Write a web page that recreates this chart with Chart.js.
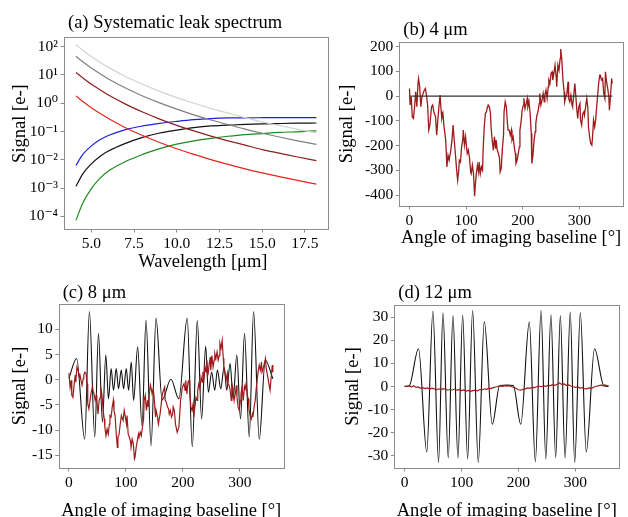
<!DOCTYPE html>
<html>
<head>
<meta charset="UTF-8">
<title>Systematic leak</title>
<style>
html, body { margin: 0; padding: 0; background: #fff; overflow: hidden; }
canvas { position: absolute; }
</style>
</head>
<body>
<canvas id="pa" width="334" height="278" style="left:0px;top:0px"></canvas>
<canvas id="pb" width="294" height="253" style="left:334px;top:0px"></canvas>
<canvas id="pc" width="334" height="250" style="left:0px;top:275px"></canvas>
<canvas id="pd" width="294" height="250" style="left:334px;top:275px"></canvas>
<script src="https://cdn.jsdelivr.net/npm/chart.js@4.4.1/dist/chart.umd.min.js"></script>
<script>
// (a) leak spectrum, signal in e- against wavelength in um
var wavelength = [4.1, 4.5, 5, 5.5, 6, 7, 8, 9, 10, 11, 12, 13, 14, 15, 16, 17, 18.17];
var leakLightGray = [117, 75, 45, 28.4, 18.6, 8.9, 4.7, 2.64, 1.58, 1.0, 0.66, 0.45, 0.31, 0.22, 0.164, 0.122, 0.089];
var leakGray = [45.7, 29.2, 17.5, 11.1, 7.2, 3.45, 1.81, 1.03, 0.62, 0.39, 0.255, 0.174, 0.121, 0.087, 0.064, 0.048, 0.035];
var leakBrown = [12.3, 7.9, 4.7, 3.0, 1.95, 0.93, 0.49, 0.276, 0.166, 0.105, 0.069, 0.047, 0.033, 0.023, 0.0172, 0.0128, 0.0093];
var leakRed = [1.82, 1.16, 0.70, 0.44, 0.29, 0.137, 0.072, 0.041, 0.0246, 0.0155, 0.0102, 0.0069, 0.0048, 0.00345, 0.00254, 0.0019, 0.00138];
var leakBlue = [0.0063, 0.0155, 0.031, 0.051, 0.072, 0.117, 0.158, 0.195, 0.229, 0.263, 0.288, 0.302, 0.306, 0.308, 0.309, 0.31, 0.31];
var leakBlack = [0.00116, 0.0032, 0.0072, 0.0132, 0.0204, 0.038, 0.062, 0.089, 0.112, 0.138, 0.158, 0.168, 0.178, 0.186, 0.192, 0.197, 0.2];
var leakGreen = [0.0000724, 0.000295, 0.00096, 0.0022, 0.004, 0.0087, 0.0155, 0.025, 0.036, 0.047, 0.0575, 0.068, 0.078, 0.085, 0.093, 0.098, 0.105];
var waveTicks = [5, 7.5, 10, 12.5, 15, 17.5];
var leakTicks = [1e-4, 1e-3, 1e-2, 1e-1, 1, 10, 100];

// (b) 4 um
var bAngle = [0,1,3,5,7,9,11,13,15,16, 18,20,22,23,26,28,30,32,34,36, 37,39,41,43,46,48,50,52,54,56,
  57,59,61,64,66,68,70,73,75,77, 79,81,83,85,87,88,90,92,94,95, 97,99,101,102,104,106,108,109,111,113,
  115,116,118,120,122,123,125,127,129,130, 132,134,136,137,139,141,143,144,146,148, 150,152,153,155,157,159,160,162,164,166,
  167,169,171,173,174,176,178,180,181,183, 185,187,188,190,192,194,195,197,199,201, 202,204,206,208,209,211,213,215,216,218,
  220,222,223,225,227,229,230,232,234,236, 238,239,241,243,245,246,248,250,252,253, 255,257,259,260,262,264,266,267,269,271,
  273,274,276,278,280,281,283,285,287,288, 290,292,294,295,297,299,301,302,304,306, 308,309,311,313,315,316,318,320,322,323,
  325,327,329,330,332,334,336,337,339,341, 343,345,346,348,350,352,353,355,357,358];
var bSignal = [31,-36,-3,-84,-90,-43,18,-43,51,71, 38,-43,-3,4,24,31,4,-36,-137,-117, -90,-43,-36,-63,-84,-158,-97,-43,4,-63,
  -90,-70,-124,-178,-286,-239,-259,-218,-178,-117, -178,-232,-292,-340,-299,-259,-266,-205,-178,-137, -198,-164,-212,-232,-218,-252,-306,-313,-279,-313,
  -404,-367,-313,-279,-306,-266,-313,-286,-299,-218, -124,-70,-63,-50,-36,-43,-70,-124,-178,-218, -164,-212,-178,-218,-232,-252,-306,-292,-212,-158,
  -63,-23,-43,-111,-137,-137,-158,-137,-178,-164, -205,-232,-272,-259,-232,-205,-137,-104,-57,-36, -9,-50,-30,-9,-43,-23,-70,-151,-272,-239,
  -178,-144,-111,-77,-63,-30,11,-36,-16,11, -23,4,24,-9,38,65,51,92,98,65, 92,125,78,38,125,105,152,190,146,65,
  18,-23,-3,11,58,-9,-23,4,-36,-43, 4,51,-9,-43,-90,-43,-30,-97,-117,-70, -63,-77,-43,-9,-50,-124,-164,-191,-198,-171,
  -97,-124,-90,-57,-3,51,85,85,65,71, 11,-9,98,58,31,-3,-57,4,71,51];
var bModelAngle = [0, 358];
var bModel = [0, 0];

// (c) 8 um
var cModelAngle = [0,13.5,27.6,35.9,45.3,51.8,58.8,64.7,69.4,74.1, 78.2,83,87,91.8,95.9,100.6,104.7,109.4,113.5,120.6,
  128.2,135.3,144.1,152.9,163.5,179,193,207.6,216.5,225.3, 232.9,240,244.7,250.6,255.9,260.6,266.5,272.4,277,282.9,
  288.2,294.7,301.2,308.2,316.5,324.1,334.1,344.7,358];
var cModel = [0.3,4.2,-11.8,13.5,-11.4,9.2,-8.4,4.9,-3.8,2.2, -2.1,2.2,-1.8,1.9,-1.8,2.2,-2.1,3.5,-4.1,6.5,
  -9.1,11.8,-13.1,12.2,-4.0,0.1,-3.8,12.2,-13.3,11.7, -7.8,6.6,-2.5,1.5,-2.1,1.9,-1.8,2.5,-2.1,3.2,
  -3.8,4.9,-7.8,9.2,-11.4,13.5,-11.8,3.9,0.2];
var cAngle = [0,2,4,5,7,9,11,12,14,16, 18,19,21,23,25,26,28,30,32,33, 35,37,39,41,42,44,46,48,49,51,
  53,55,56,58,60,62,63,65,67,69, 71,72,74,76,78,79,81,83,85,86, 88,90,92,93,95,97,99,101,102,104,
  106,108,109,111,113,115,116,118,120,122, 123,125,127,129,131,132,134,136,138,139, 141,143,145,146,148,150,152,153,155,157,
  159,160,162,164,166,168,169,171,173,175, 176,178,180,182,183,185,187,190,193,196, 199,202,204,205,207,209,211,212,214,216,
  218,219,221,223,225,226,228,230,232,234, 235,237,239,241,242,244,246,248,249,251, 253,255,256,258,260,262,264,265,267,269,
  271,272,274,276,278,279,281,283,285,286, 288,290,292,294,295,297,299,301,302,304, 306,308,309,311,313,315,316,318,320,322,
  323,325,327,329,331,332,334,336,338,339, 341,343,345,346,348,350,352,353,355,357, 358];
var cSignal = [1.3,-1.5,-0.1,-3.1,-3.5,-1.1,0.9,-0.5,2.5,1.9, 0.5,1.2,-0.1,-1.1,0.2,0.9,1.5,1.2,-0.8,-4.8,
  -5.8,-4.1,-2.5,-1.5,-2.1,-2.8,-4.1,-3.1,-4.1,-6.8, -4.1,-3.5,-1.5,-3.1,-6.1,-7.8,-9.4,-11.1,-9.8,-10.8,
  -8.8,-7.1,-7.4,-5.4,-4.1,-6.1,-7.1,-10.8,-13.4,-11.4, -10.8,-8.8,-7.1,-7.1,-8.1,-6.1,-7.4,-8.8,-7.1,-10.8,
  -11.4,-12.1,-13.4,-11.8,-12.7,-15.7,-15.4,-13.4,-12.1,-10.8, -11.4,-10.4,-11.1,-9.4,-7.8,-4.1,-3.1,-6.1,-4.1,-5.4,
  -2.8,-1.1,-2.1,-2.8,-1.8,-4.1,-7.4,-6.1,-7.1,-8.8, -7.4,-6.8,-4.8,-2.8,-2.1,-1.5,-4.1,-4.5,-5.4,-5.8,
  -6.8,-6.1,-7.4,-6.8,-5.4,-6.1,-8.8,-10.4,-9.4,-4.1, -1.5,-0.8,-2.1,-0.1,-2.8,-0.5,-0.1,-2.1,-5.4,-6.1,
  -4.8,-7.4,-5.4,-3.5,-4.1,-2.1,-0.8,-1.8,0.5,-0.5, 1.5,0.2,2.5,1.5,3.9,0.9,2.9,4.5,1.9,4.8,
  2.5,3.9,5.2,4.2,5.5,3.9,4.8,7.2,6.2,7.8, 4.2,2.2,1.5,-0.1,1.2,-0.8,-1.1,-2.1,-4.1,-0.8,
  -1.8,-4.1,-2.8,-1.1,-3.5,-5.4,-6.1,-4.1,-2.8,-1.5, -4.1,-1.5,-2.1,-0.8,-3.1,-3.8,-5.8,-7.1,-7.8,-6.8,
  -7.4,-5.4,-4.1,-1.5,0.5,1.5,2.9,1.9,3.5,1.5, 2.2,3.2,4.2,2.5,1.2,-0.1,-1.5,-2.1,0.5,2.9, 1.5];

// (d) 12 um
var dModelAngle = [0,8,24.5,39,49.8,59.7,67.4,76.7,85,93.7, 102,110.7,119.5,129.4,140,154,167,180,191,204,
  219,229.6,239.6,248,257,265.3,273.5,281.8,290.9,298.7, 308.6,319,333.5,350,358];
var dModel = [0,0.2,16.3,-28.3,32.5,-32.8,31.7,-30.9,30.5,-30.9, 30.8,-31.3,32.8,-32.8,28,-16.3,0.4,0.6,0.4,-16.3,
  27.8,-32.5,32.8,-31.3,31,-30.7,30.5,-30.9,32.2,-32.8, 31.8,-28.3,16.3,0.2,0];
var dAngle = [0,4,8,12,16,20,24,28,32,36, 40,44,48,52,56,60,64,68,72,76, 80,84,88,92,96,100,104,108,112,116,
  120,124,128,132,136,140,144,148,152,156, 160,164,168,172,176,180,184,188,192,196, 200,204,208,212,216,220,224,228,232,236,
  240,244,248,252,256,260,264,268,272,276, 280,284,288,292,296,300,304,308,312,316, 320,324,328,332,336,340,344,348,352,356, 358];
var dSignal = [0.2,0.1,0.4,-0.2,0.3,-0.4,-0.2,-0.8,-0.5,-0.9, -0.6,-1.1,-0.7,-1.0,-1.4,-1.0,-1.3,-0.9,-1.2,-1.6,
  -1.3,-1.5,-1.1,-1.6,-1.4,-1.8,-1.5,-2.0,-1.7,-2.1, -1.8,-1.6,-1.9,-1.3,-1.5,-1.0,-1.2,-0.7,-0.9,-0.5,
  -0.2,0.0,0.3,0.1,0.4,0.2,0.3,-0.1,-0.4,-0.9, -1.4,-1.6,-1.2,-1.0,-0.6,-0.8,-0.4,-0.5,-0.1,0.2,
  -0.1,0.3,0.1,0.5,0.4,0.8,0.5,1.0,1.5,0.9, 1.1,0.5,0.7,0.2,-0.1,-0.4,-0.2,-0.7,-0.5,-0.9,
  -1.0,-0.6,-0.8,-0.3,0.1,0.3,0.6,0.4,0.7,0.3, 0.5];

var angleTicks = [0, 100, 200, 300];
var bTicks = [-400, -300, -200, -100, 0, 100, 200];
var cTicks = [-15, -10, -5, 0, 5, 10];
var dTicks = [-30, -20, -10, 0, 10, 20, 30];

var SERIF = "'Liberation Serif', 'DejaVu Serif', serif";
var SPINE = '#8c8c8c';
var DARKRED = '#9e1b1b';
Chart.defaults.font.family = SERIF;
Chart.defaults.color = '#000';

function series(xs, ys, color, width) {
  return {
    data: xs.map(function (x, i) { return {x: x, y: ys[i]}; }),
    borderColor: color, borderWidth: width || 1.2,
    pointRadius: 0, fill: false, tension: 0
  };
}
function smooth(ds) { ds.cubicInterpolationMode = 'monotone'; return ds; }

var SUP = {'-': '\u207B', '0': '\u2070', '1': '\u00B9', '2': '\u00B2', '3': '\u00B3', '4': '\u2074'};
function powLabel(v) {
  var e = String(Math.round(Math.log10(v)));
  return '10' + e.split('').map(function (c) { return SUP[c]; }).join('');
}

function axis(o) {
  return {
    type: o.type || 'linear', min: o.min, max: o.max,
    afterBuildTicks: function (s) { s.ticks = o.ticks.map(function (v) { return {value: v}; }); },
    afterFit: function (s) { if (o.width) s.width = o.width; if (o.height) s.height = o.height; },
    ticks: {font: {size: 15.5}, padding: 2.5, maxRotation: 0, autoSkip: false, callback: o.fmt},
    grid: {drawOnChartArea: false, drawTicks: true, tickLength: 3.5, color: SPINE},
    border: {display: false},
    title: {display: true, text: o.title, font: {size: 18.5}, padding: o.titlePad}
  };
}

var framePlugin = {
  id: 'frame',
  afterDraw: function (chart, args, opts) {
    var a = chart.chartArea, ctx = chart.ctx;
    ctx.save();
    ctx.strokeStyle = SPINE;
    ctx.lineWidth = 1;
    var l = Math.round(a.left) + 0.5, t = Math.round(a.top) + 0.5;
    ctx.strokeRect(l, t, Math.round(a.right) - Math.round(a.left), Math.round(a.bottom) - Math.round(a.top));
    ctx.fillStyle = '#000';
    ctx.font = '18.5px ' + SERIF;
    ctx.textAlign = 'left';
    ctx.textBaseline = 'alphabetic';
    ctx.fillText(opts.text, a.left + 4, a.top - opts.gap);
    ctx.restore();
  }
};

function panel(id, datasets, o) {
  return new Chart(document.getElementById(id), {
    type: 'line',
    data: {datasets: datasets},
    options: {
      responsive: false, animation: false, events: [],
      layout: {padding: o.padding},
      scales: {x: o.x, y: o.y},
      plugins: {legend: {display: false}, tooltip: {enabled: false}, frame: {text: o.title, gap: o.gap}}
    },
    plugins: [framePlugin]
  });
}

function int(v) { return String(v); }

panel('pa', [
  smooth(series(wavelength, leakLightGray, '#d2d2d2')),
  smooth(series(wavelength, leakGray, '#7f7f7f')),
  smooth(series(wavelength, leakBrown, '#8f1f1f')),
  smooth(series(wavelength, leakRed, '#e5261f')),
  smooth(series(wavelength, leakBlue, '#1f1fe0')),
  smooth(series(wavelength, leakBlack, '#111111')),
  smooth(series(wavelength, leakGreen, '#1f8a1f'))
], {
  padding: {top: 36.7, right: 6, bottom: 0, left: 0},
  title: '(a) Systematic leak spectrum', gap: 8.4,
  x: axis({min: 3.4, max: 18.85, ticks: waveTicks, height: 49, fmt: function (v) { return v.toFixed(1); },
    title: '   Wavelength [\u03BCm]', titlePad: {top: 0, bottom: 4.9}}),
  y: axis({type: 'logarithmic', min: 3.57e-5, max: 226, ticks: leakTicks, width: 64, fmt: powLabel,
    title: '    Signal [e-]', titlePad: {top: 8.9, bottom: 0}})
});

panel('pb', [
  series(bModelAngle, bModel, '#333333', 1.3),
  series(bAngle, bSignal, DARKRED, 1.3)
], {
  padding: {top: 41.7, right: 5, bottom: 0, left: 0},
  title: '(b) 4 \u03BCm', gap: 7,
  x: axis({min: -18, max: 377, ticks: angleTicks, height: 47, fmt: int,
    title: 'Angle of imaging baseline [\u00B0]', titlePad: {top: 0, bottom: 3.9}}),
  y: axis({min: -444, max: 220, ticks: bTicks, width: 65.3, fmt: int,
    title: 'Signal [e-]', titlePad: {top: 1.6, bottom: 0}})
});

panel('pc', [
  series(cAngle, cSignal, DARKRED, 1.2),
  smooth(series(cModelAngle, cModel, '#111111', 1.1))
], {
  padding: {top: 29, right: 50.3, bottom: 0, left: 0},
  title: '(c) 8 \u03BCm', gap: 6.3,
  x: axis({min: -18, max: 377, ticks: angleTicks, height: 57, fmt: int,
    title: 'Angle of imaging baseline [\u00B0]', titlePad: {top: 0, bottom: 2.9}}),
  y: axis({min: -17.5, max: 15, ticks: cTicks, width: 58.7, fmt: int,
    title: 'Signal [e-]', titlePad: {top: 8.9, bottom: 0}})
});

panel('pd', [
  series(dAngle, dSignal, DARKRED, 1.2),
  smooth(series(dModelAngle, dModel, '#111111', 1.1))
], {
  padding: {top: 30, right: 8.7, bottom: 0, left: 0},
  title: '(d) 12 \u03BCm', gap: 7.3,
  x: axis({min: -18, max: 377, ticks: angleTicks, height: 57, fmt: int,
    title: 'Angle of imaging baseline [\u00B0]', titlePad: {top: 0, bottom: 2.9}}),
  y: axis({min: -35.2, max: 35.2, ticks: dTicks, width: 60.3, fmt: int,
    title: 'Signal [e-]', titlePad: {top: 8.2, bottom: 0}})
});
</script>
</body>
</html>
